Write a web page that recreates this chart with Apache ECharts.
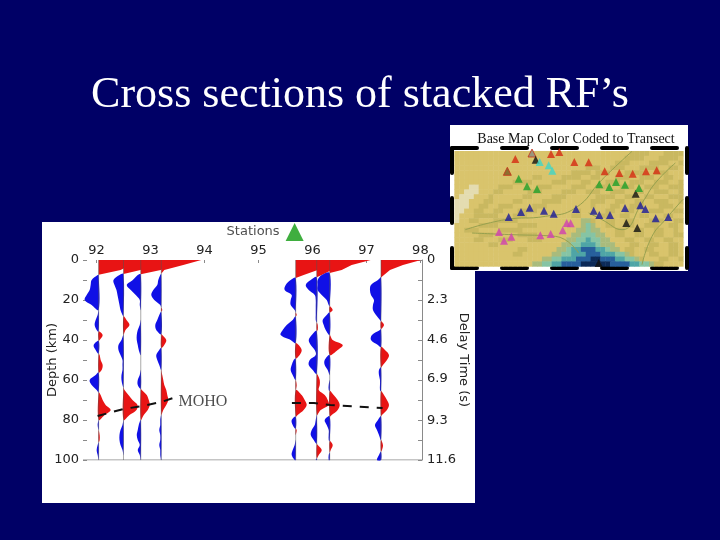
<!DOCTYPE html>
<html>
<head>
<meta charset="utf-8">
<style>html,body{margin:0;background:#000066}#chart{width:720px;height:540px}</style>
<script src="https://cdn.jsdelivr.net/npm/echarts@6/dist/echarts.min.js"></script>
</head>
<body>
<div id="chart"></div>
<script>
// receiver functions: amplitude every 2.5 km from 0 to 100 km, 1 unit = 1/54 deg
const depths = Array.from({ length: 41 }, (_, i) => i * 2.5)
const traceLons = [92.04, 92.5, 92.82, 93.2, 95.69, 96.08, 96.32, 97.27]
const trace1 = [40,32,22,-1,-7,-8,-9,-12,-14,-7,0,-1,-3,-4,-2,4,1,-5,-3,1,2,4,3,-3,-9,-7,-2,2,4,7,12,6,0,-1,0,1,1,-1,-2,-1,0]
const trace2 = [40,28,17,-4,-10,-9,-7,-6,-5,-4,-3,-1,3,6,2,0,-2,-5,-5,-3,-1,-1,-1,-2,-2,-1,1,5,9,14,13,6,0,-1,-3,-4,-4,-3,-1,0,0]
const trace3 = [40,30,20,-3,-8,-14,-10,-5,-1,-1,0,0,0,-1,-3,-4,-4,-3,-2,0,0,0,0,-1,-3,-3,1,6,8,9,7,3,0,-2,-3,-4,-3,-1,-3,-1,0]
const trace4 = [40,22,3,-1,-3,-4,-8,-10,-7,-1,1,-2,-4,-6,-5,1,5,3,-2,-5,-4,-2,0,1,2,3,5,6,7,5,2,0,-1,-1,-2,-1,-1,-2,-1,-1,0]
const trace5 = [40,33,22,8,-5,-10,-11,-4,-5,-5,-1,1,-3,-9,-13,-15,-5,3,6,4,-2,-4,-5,-3,0,1,0,6,9,11,8,2,-4,-3,1,0,0,-1,-3,-4,-1]
const trace6 = [40,28,15,5,-6,-11,-8,-2,-1,-1,-1,-1,-1,1,1,-5,-8,-6,-2,-1,-7,-8,-4,1,3,3,2,8,11,12,4,0,-1,-2,-5,-6,-3,1,5,2,-1]
const trace7 = [41,22,12,-8,-12,-12,-12,-8,-3,-1,3,-3,-7,-6,-4,0,3,13,8,0,-5,-5,-2,0,0,-1,-1,4,8,10,8,2,-5,-3,-1,-1,-1,3,1,-1,-1]
const trace8 = [40,22,9,3,-3,-10,-11,-10,-7,-8,-8,-5,-1,3,-1,-9,-10,-3,4,8,6,2,-2,-2,-1,-1,-1,3,6,8,6,1,-3,-6,-4,-2,0,2,1,-2,-4]
const traces = [trace1, trace2, trace3, trace4, trace5, trace6, trace7, trace8]
const lonTicks = [92, 93, 94, 95, 96, 97, 98]
const depthLabels = [0, 20, 40, 60, 80, 100]
const depthTicks = [0, 10, 20, 30, 40, 50, 60, 70, 80, 90, 100]
const delayLabels = [0, 2.3, 4.6, 6.9, 9.3, 11.6]
const delayTicks = [0, 1.16, 2.32, 3.48, 4.64, 5.8, 6.96, 8.12, 9.28, 10.44, 11.6]
const mohoWest = [[92.02, 78], [92.5, 74.5], [92.85, 73], [93.2, 71], [93.42, 69]]
const mohoEast = [[95.62, 71.5], [96.03, 71.5], [96.33, 72.5], [97.3, 74]]

// inset map, units are position across the map frame
const terrainRows = [
  '11111111111111111111111111111111111122221112222',
  '11111111111111111111111111111111111222211122221',
  '11111111111111111111111111111111122211112222112',
  '11111111111111111111111111122211222111222211221',
  '11111111111111111111111122221222111222211222111',
  '11111111111111112211112222112211122211222112211',
  '11111111111122221111222111221112221122211222112',
  '11100111122211111222111122211222112221122211222',
  '11000111221111122211112221122211222112211222112',
  '10001112111111221111222111111222211221122111222',
  '00011122111122111122221111112221122112211222112',
  '00011221122211112221111111112111221122211122211',
  '00112211221112222111111112111112211221112221122',
  '01112222211122211111111122111122112211221112211',
  '01122111222221111111111111332112211221112221122',
  '11111222211112222111111111343112211221122211221',
  '11222111122222111111111113343311122112211221121',
  '11111222111112222111111133444331122112211221122',
  '11112211122211122211111334454433111221122112211',
  '11111112211111111111113344555433311122112211221',
  '11111111111112211111133455666554331221122111221',
  '11111111111122111111334455566655544321112211221',
  '11111111111111111133445556667766655443211122112',
  '11111111111111113344556666777777666655443221111'
]
const terrainColors = ['#e4dcb0', '#d9c46c', '#c9b860', '#a9bb7c', '#86c4a4', '#4fa5a6', '#275f9c', '#0c2a58']
const riverA = [[430, 280], [470, 300], [530, 330], [590, 250], [630, 190], [690, 130]]
const riverB = [[60, 330], [180, 300], [300, 290], [390, 265], [470, 180], [560, 95]]
const riverC = [[80, 340], [200, 345], [330, 350], [400, 400]]
const riverD = [[590, 435], [620, 350], [660, 300], [712, 240]]
const redStations = [[317, 103], [342, 97], [210, 118], [387, 127], [430, 128], [478, 155], [522, 160], [562, 162], [602, 155], [634, 152]]
const outlinedGray = [[260, 100]]
const outlinedBrown = [[186, 155]]
const blackStations = [[271, 120], [571, 222], [543, 310], [576, 325], [460, 430]]
const cyanStations = [[283, 127], [310, 137], [321, 153]]
const greenStations = [[220, 177], [245, 200], [275, 208], [462, 194], [492, 202], [512, 187], [539, 195], [581, 205]]
const blueStations = [[190, 292], [227, 277], [253, 264], [296, 273], [325, 282], [392, 268], [445, 273], [462, 286], [494, 286], [539, 265], [585, 257], [600, 268], [631, 296], [669, 292]]
const magentaStations = [[161, 337], [198, 351], [176, 363], [285, 347], [316, 343], [352, 332], [364, 310], [376, 311]]

const sans = '"DejaVu Sans"'
const serif = '"Liberation Serif"'
const gray = '#8a8a8a'

// splits one trace into red and blue polygons either side of its baseline
const renderTrace = (lon, amps) => (params, api) => {
  if (params.dataIndex !== 0) return
  const at = (a, d) => api.coord([lon + a / 54, d])
  const children = []
  let run = [], sign = 0
  const close = () => {
    if (run.length > 1) {
      children.push({
        type: 'polygon',
        shape: { points: run.map(p => at(p[0], p[1])), smooth: run[0][1] === 0 ? 0 : 0.35 },
        style: { fill: sign > 0 ? '#e81414' : '#1010e6' }
      })
    }
  }
  amps.forEach((a, i) => {
    const s = a > 0 ? 1 : a < 0 ? -1 : 0
    if (s !== 0 && s !== sign) {
      if (sign !== 0 && i > 0) {
        const prev = amps[i - 1]
        const cross = depths[i - 1] + (depths[i] - depths[i - 1]) * prev / (prev - a)
        run.push([0, cross])
        close()
        run = [[0, cross]]
      } else {
        run = [[0, i > 0 ? depths[i - 1] : depths[i]]]
      }
      sign = s
    }
    if (s === 0 && sign !== 0) {
      run.push([0, depths[i]])
      close()
      run = []
      sign = 0
    } else if (s !== 0) {
      run.push([a, depths[i]])
    }
  })
  run.push([0, 100])
  close()
  children.push({
    type: 'polyline',
    shape: { points: [[0, 0], [0, 100]].map(p => at(p[0], p[1])) },
    style: { stroke: '#555', lineWidth: 0.5, fill: null }
  })
  return { type: 'group', children }
}

const stationSeries = (data, color, border) => ({
  type: 'scatter',
  xAxisIndex: 1,
  yAxisIndex: 2,
  data,
  symbol: 'triangle',
  symbolSize: 8,
  z: 5,
  itemStyle: { color, borderColor: border || color, borderWidth: border ? 1 : 0 }
})

const riverSeries = (data) => ({
  type: 'line',
  xAxisIndex: 1,
  yAxisIndex: 2,
  data,
  symbol: 'none',
  smooth: true,
  z: 3,
  lineStyle: { color: '#96a04e', width: 1 }
})

const terrainCells = []
terrainRows.forEach((row, r) => {
  row.split('').forEach((c, k) => terrainCells.push([27 + k * 14.6, 94 + r * 14.4, Number(c)]))
})

const frameLine = { lineStyle: { color: '#000', width: 4, type: [25, 25] } }
const mapX = { gridIndex: 1, type: 'value', min: 20, max: 725, axisTick: { show: false }, axisLabel: { show: false }, splitLine: { show: false }, axisLine: { show: true, ...frameLine } }
const mapY = { gridIndex: 1, type: 'value', min: 85, max: 445, inverse: true, axisTick: { show: false }, axisLabel: { show: false }, splitLine: { show: false }, axisLine: { show: true, ...frameLine } }

const mChart = echarts.init(document.getElementById('chart'))
mChart.setOption({
  animation: false,
  backgroundColor: '#000066',
  title: [
    {
      text: 'Cross sections of stacked RF’s',
      left: 355,
      textAlign: 'center',
      top: 68,
      textStyle: { color: '#fff', fontFamily: serif, fontSize: 44, fontWeight: 'normal' }
    },
    {
      text: 'Base Map Color Coded to Transect',
      left: 571,
      textAlign: 'center',
      top: 127,
      textStyle: { color: '#111', fontFamily: serif, fontSize: 14, fontWeight: 'normal' }
    }
  ],
  graphic: [
    { type: 'rect', shape: { x: 42, y: 222, width: 433, height: 281 }, style: { fill: '#fff' } },
    { type: 'rect', shape: { x: 450, y: 125, width: 238, height: 146 }, style: { fill: '#fff' } }
  ],
  grid: [
    { left: 83, top: 260, width: 339, height: 200 },
    { left: 452, top: 148, width: 235, height: 120, show: true, borderColor: '#000', borderWidth: 1 }
  ],
  xAxis: [
    {
      type: 'value',
      position: 'top',
      min: 91.75,
      max: 98.03,
      interval: 0.25,
      splitLine: { show: false },
      axisLine: { show: false },
      axisTick: { customValues: lonTicks, inside: true, length: 3, lineStyle: { color: gray } },
      axisLabel: { customValues: lonTicks, color: '#222', fontFamily: sans, fontSize: 13, margin: 3 }
    },
    { ...mapX, position: 'top' },
    { ...mapX, position: 'bottom' }
  ],
  yAxis: [
    {
      type: 'value',
      inverse: true,
      min: 0,
      max: 100,
      splitLine: { show: false },
      axisLine: { show: true, lineStyle: { color: 'transparent' } },
      axisTick: { customValues: depthTicks, inside: true, length: 4, lineStyle: { color: gray } },
      axisLabel: { customValues: depthLabels, color: '#222', fontFamily: sans, fontSize: 13, margin: 4 },
      name: 'Depth (km)',
      nameLocation: 'middle',
      nameRotate: 90,
      nameGap: 24,
      nameMoveOverlap: false,
      nameTextStyle: { color: '#222', fontFamily: sans, fontSize: 13 }
    },
    {
      type: 'value',
      position: 'right',
      inverse: true,
      min: 0,
      max: 11.6,
      splitLine: { show: false },
      axisLine: { show: true, lineStyle: { color: gray } },
      axisTick: { customValues: delayTicks, inside: true, length: 4, lineStyle: { color: gray } },
      axisLabel: { customValues: delayLabels, color: '#222', fontFamily: sans, fontSize: 13, margin: 5 },
      name: 'Delay Time (s)',
      nameLocation: 'middle',
      nameRotate: -90,
      nameGap: 35,
      nameMoveOverlap: false,
      nameTextStyle: { color: '#222', fontFamily: sans, fontSize: 13 }
    },
    { ...mapY, position: 'left' },
    { ...mapY, position: 'right' }
  ],
  series: [
    {
      // bottom axis line of the section
      type: 'line',
      data: [[91.75, 100], [98.03, 100]],
      symbol: 'none',
      z: 1,
      lineStyle: { color: gray, width: 1 }
    },
    ...traces.map((amps, t) => ({
      type: 'custom',
      xAxisIndex: 0,
      yAxisIndex: 0,
      clip: false,
      z: 2,
      renderItem: renderTrace(traceLons[t], amps),
      data: amps.map((a, i) => [traceLons[t], depths[i], a])
    })),
    {
      type: 'line',
      data: mohoWest,
      symbol: 'none',
      z: 4,
      lineStyle: { color: '#111', width: 2, type: [9, 8] }
    },
    {
      type: 'line',
      data: mohoEast,
      symbol: 'none',
      z: 4,
      lineStyle: { color: '#111', width: 2, type: [9, 8] }
    },
    {
      type: 'scatter',
      data: [[93.5, 71]],
      symbolSize: 0,
      label: { show: true, position: 'right', distance: 1, formatter: 'MOHO', color: '#222', fontFamily: serif, fontSize: 16 }
    },
    {
      type: 'scatter',
      data: [[95.67, -14]],
      clip: false,
      symbol: 'triangle',
      symbolSize: 18,
      itemStyle: { color: '#0f9a0f' },
      label: { show: true, position: 'left', distance: 6, formatter: 'Stations', color: '#222', fontFamily: sans, fontSize: 13 }
    },
    {
      type: 'custom',
      xAxisIndex: 1,
      yAxisIndex: 2,
      z: 1,
      renderItem: (params, api) => {
        const p = api.coord([api.value(0), api.value(1)])
        const size = api.size([14.6, 14.4])
        return {
          type: 'rect',
          shape: { x: p[0], y: p[1], width: size[0] + 0.5, height: size[1] + 0.5 },
          style: { fill: terrainColors[api.value(2)] }
        }
      },
      data: terrainCells
    },
    riverSeries(riverA),
    riverSeries(riverB),
    riverSeries(riverC),
    riverSeries(riverD),
    stationSeries(redStations, '#d42a12'),
    stationSeries(outlinedGray, '#8a8a80', '#c83018'),
    stationSeries(outlinedBrown, '#7a5a20', '#c83018'),
    stationSeries(blackStations, '#111'),
    stationSeries(cyanStations, '#3fd6c8'),
    stationSeries(greenStations, '#1fa02a'),
    stationSeries(blueStations, '#1a1a9a'),
    stationSeries(magentaStations, '#d040b0')
  ]
})
</script>
</body>
</html>
